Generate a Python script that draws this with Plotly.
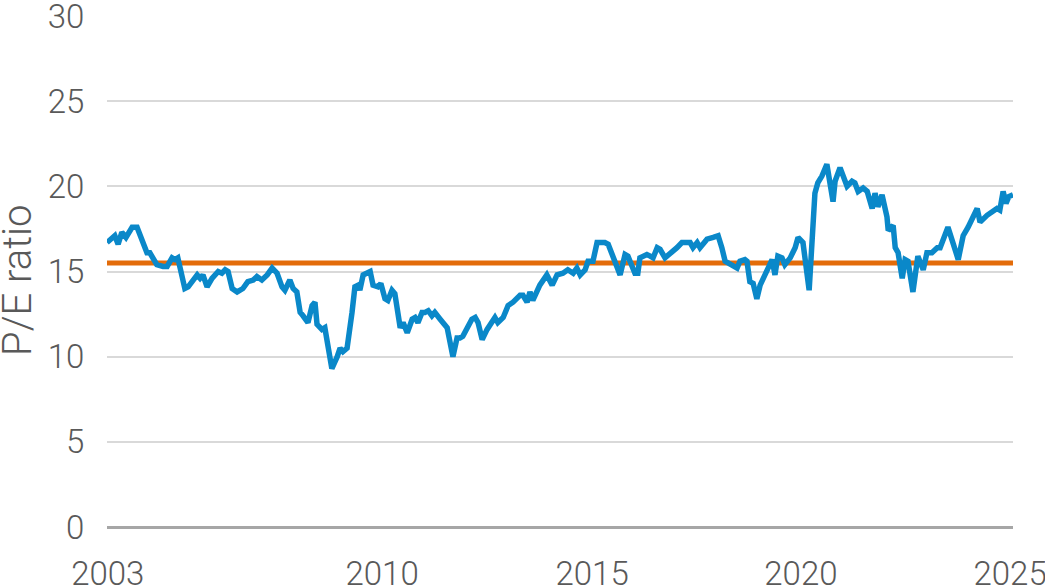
import plotly.graph_objects as go

# Decimal-year positions and P/E values
years = [
    2003.00, 2003.19, 2003.27, 2003.36, 2003.46, 2003.61, 2003.73, 2003.87, 2003.97, 2004.04,
    2004.21, 2004.36, 2004.46, 2004.58, 2004.65, 2004.72, 2004.89, 2004.97, 2005.19, 2005.26,
    2005.33, 2005.43, 2005.55, 2005.70, 2005.79, 2005.87, 2005.94, 2006.04, 2006.16, 2006.30,
    2006.42, 2006.55, 2006.64, 2006.76, 2006.89, 2007.01, 2007.13, 2007.25, 2007.32, 2007.44,
    2007.52, 2007.61, 2007.69, 2007.76, 2007.88, 2007.98, 2008.05, 2008.10, 2008.22, 2008.29,
    2008.46, 2008.59, 2008.66, 2008.73, 2008.83, 2008.95, 2009.02, 2009.10, 2009.14, 2009.22,
    2009.39, 2009.46, 2009.58, 2009.65, 2009.75, 2009.82, 2009.92, 2009.99, 2010.12, 2010.19,
    2010.29, 2010.41, 2010.48, 2010.55, 2010.65, 2010.72, 2010.80, 2010.89, 2010.96, 2011.09,
    2011.26, 2011.40, 2011.50, 2011.57, 2011.64, 2011.86, 2011.94, 2012.01, 2012.11, 2012.23,
    2012.42, 2012.49, 2012.62, 2012.74, 2012.86, 2013.03, 2013.10, 2013.20, 2013.27, 2013.34,
    2013.51, 2013.68, 2013.81, 2013.93, 2014.07, 2014.19, 2014.32, 2014.41, 2014.49, 2014.61,
    2014.68, 2014.80, 2014.90, 2014.97, 2015.09, 2015.17, 2015.26, 2015.34, 2015.46, 2015.58,
    2015.65, 2015.82, 2015.89, 2015.94, 2016.11, 2016.19, 2016.26, 2016.36, 2016.43, 2016.55,
    2016.72, 2016.84, 2016.96, 2017.16, 2017.23, 2017.33, 2017.40, 2017.57, 2017.72, 2017.84,
    2017.93, 2018.01, 2018.08, 2018.18, 2018.30, 2018.37, 2018.49, 2018.54, 2018.61, 2018.69,
    2018.78, 2018.86, 2018.98, 2019.05, 2019.15, 2019.22, 2019.29, 2019.39, 2019.46, 2019.59,
    2019.71, 2019.78, 2019.90, 2020.05, 2020.14, 2020.19, 2020.26, 2020.36, 2020.48, 2020.63,
    2020.68, 2020.80, 2020.97, 2021.09, 2021.16, 2021.24, 2021.36, 2021.46, 2021.58, 2021.65,
    2021.72, 2021.82, 2021.94, 2021.97, 2022.09, 2022.14, 2022.21, 2022.31, 2022.38, 2022.45,
    2022.57, 2022.69, 2022.82, 2022.91, 2023.03, 2023.16, 2023.23, 2023.42, 2023.54, 2023.67,
    2023.79, 2023.91, 2024.13, 2024.20, 2024.37, 2024.49, 2024.61, 2024.68, 2024.76, 2024.83,
    2024.90, 2025.00,
]
pe_ratio = [
    16.7, 17.1, 16.6, 17.3, 17.0, 17.6, 17.6, 16.6, 16.1, 16.1,
    15.4, 15.3, 15.3, 15.8, 15.7, 15.8, 14.0, 14.1, 14.8, 14.6,
    14.8, 14.1, 14.6, 15.0, 14.9, 15.1, 15.0, 14.0, 13.8, 14.0,
    14.4, 14.5, 14.7, 14.5, 14.8, 15.2, 14.9, 14.1, 13.9, 14.5,
    14.0, 13.8, 12.6, 12.4, 12.0, 13.0, 13.2, 11.9, 11.6, 11.7,
    9.3, 10.0, 10.5, 10.3, 10.5, 12.6, 14.1, 14.2, 13.9, 14.8,
    15.0, 14.2, 14.1, 14.3, 13.4, 13.3, 13.9, 13.7, 11.7, 12.0,
    11.4, 12.2, 12.3, 12.0, 12.6, 12.6, 12.7, 12.4, 12.6, 12.2,
    11.7, 10.0, 11.1, 11.1, 11.2, 12.2, 12.3, 12.0, 11.0, 11.6,
    12.3, 12.0, 12.3, 13.0, 13.2, 13.6, 13.6, 13.2, 13.8, 13.3,
    14.2, 14.8, 14.2, 14.8, 14.9, 15.1, 14.9, 15.2, 14.8, 15.1,
    15.6, 15.6, 16.7, 16.7, 16.7, 16.6, 16.0, 15.6, 14.8, 16.0,
    15.9, 14.9, 14.9, 15.8, 16.0, 15.9, 15.8, 16.4, 16.3, 15.8,
    16.1, 16.4, 16.7, 16.7, 16.4, 16.7, 16.4, 16.9, 17.0, 17.1,
    16.4, 15.6, 15.5, 15.4, 15.2, 15.6, 15.7, 15.6, 14.4, 14.3,
    13.4, 14.2, 14.9, 15.2, 15.7, 14.8, 15.9, 15.8, 15.4, 15.8,
    16.4, 17.0, 16.7, 13.9, 17.5, 19.6, 20.2, 20.6, 21.3, 19.1,
    20.3, 21.1, 20.0, 20.3, 20.2, 19.7, 19.9, 19.7, 18.7, 19.6,
    18.8, 19.5, 18.2, 17.4, 17.7, 16.4, 16.1, 14.6, 15.7, 15.6,
    13.8, 15.9, 15.1, 16.1, 16.1, 16.4, 16.4, 17.6, 16.7, 15.7,
    17.1, 17.6, 18.7, 17.9, 18.3, 18.5, 18.7, 18.6, 19.7, 19.0,
    19.4, 19.5,
]
avg_years = [2003.0, 2025.0]
avg_pe = [15.5, 15.5]

tick_vals = [2003.02, 2009.68, 2014.78, 2019.85, 2024.93]
tick_text = ["2003", "2010", "2015", "2020", "2025"]
y_ticks = [0, 5, 10, 15, 20, 25, 30]

FONT = "Roboto, DejaVu Sans, sans-serif"
TXT = "#595959"
tick_font = dict(family=FONT, size=33, color=TXT, weight=300)

fig = go.Figure()
fig.add_trace(go.Scatter(x=avg_years, y=avg_pe, mode="lines",
                         line=dict(color="#e36c0a", width=5), showlegend=False, hoverinfo="skip"))
fig.add_trace(go.Scatter(x=years, y=pe_ratio, mode="lines",
                         line=dict(color="#0a88c9", width=5.5), showlegend=False))

fig.update_layout(
    width=1045, height=587,
    margin=dict(l=107, r=32, t=16, b=60, autoexpand=False),
    paper_bgcolor="white", plot_bgcolor="white",
    font=dict(family=FONT, size=33, color=TXT),
    xaxis=dict(range=[2003, 2025], tickvals=tick_vals, ticktext=tick_text,
               showgrid=False, zeroline=False, showline=False, automargin=False,
               ticks="outside", ticklen=17, tickcolor="rgba(0,0,0,0)",
               ticklabeloverflow="allow", tickfont=tick_font),
    yaxis=dict(range=[0, 30], tickvals=y_ticks, showgrid=True, gridcolor="#d9d9d9", gridwidth=1.5,
               zeroline=True, zerolinecolor="#a6a6a6", zerolinewidth=2.5, showline=False,
               automargin=False, ticklabeloverflow="allow",
               ticks="outside", ticklen=15, tickcolor="rgba(0,0,0,0)",
               tickfont=tick_font),
    annotations=[dict(text="P/E ratio", xref="paper", yref="paper",
                      x=(17 - 107) / 906, y=(527 - 281) / 511, xanchor="center", yanchor="middle",
                      textangle=-90, showarrow=False,
                      font=dict(family=FONT, size=40, color=TXT, weight=300))],
)

# remove the default 8px page margin so the 1045x587 figure fills the window
fig.write_html("out.html", config={"displayModeBar": False},
               post_script="document.body.style.margin='0';document.body.style.overflow='hidden';")
